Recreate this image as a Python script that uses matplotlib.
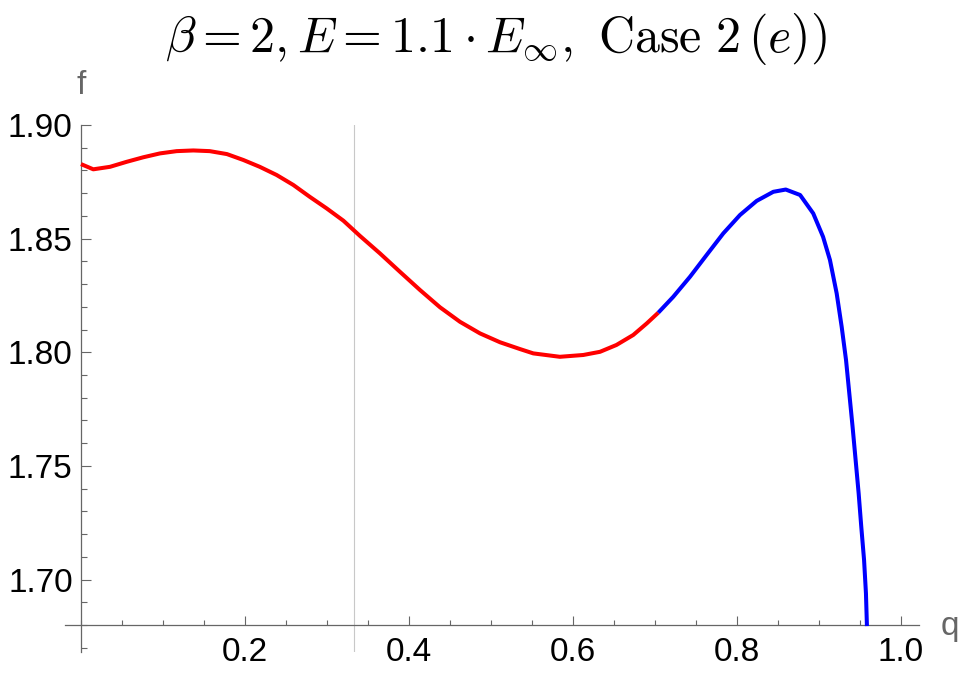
import matplotlib
matplotlib.use('Agg')
import matplotlib.pyplot as plt
from matplotlib.ticker import FixedLocator, MultipleLocator, FormatStrFormatter

plt.rcParams['font.family'] = ['Liberation Sans', 'DejaVu Sans']
plt.rcParams['mathtext.fontset'] = 'cm'

# red branch
q_red = [0.0, 0.015, 0.0354, 0.0557, 0.076, 0.0963, 0.1167, 0.137, 0.157, 0.178,
         0.198, 0.218, 0.2386, 0.259, 0.279, 0.2996, 0.32, 0.3402, 0.3646, 0.389,
         0.4134, 0.4378, 0.4622, 0.4866, 0.511, 0.5354, 0.5516, 0.584, 0.6126,
         0.633, 0.653, 0.6735, 0.69, 0.704]
f_red = [1.8828, 1.8805, 1.8816, 1.8838, 1.8858, 1.8875, 1.8885, 1.8888, 1.8885, 1.8872,
         1.8846, 1.8816, 1.8780, 1.8736, 1.8684, 1.8633, 1.8579, 1.8512, 1.8435, 1.8354,
         1.8274, 1.8198, 1.8134, 1.8083, 1.8044, 1.8014, 1.7995, 1.7980, 1.7988,
         1.8002, 1.8032, 1.8076, 1.8127, 1.8174]

# blue branch
q_blue = [0.704, 0.7223, 0.7427, 0.763, 0.7833, 0.8037, 0.824, 0.8443, 0.8595, 0.877,
          0.893, 0.905, 0.9134, 0.9216, 0.9277, 0.933, 0.937, 0.941, 0.9447, 0.9484,
          0.9516, 0.955, 0.9573, 0.9585]
f_blue = [1.8174, 1.8244, 1.8332, 1.8428, 1.8523, 1.8604, 1.8666, 1.8706, 1.8716, 1.8692,
          1.8611, 1.8508, 1.8406, 1.8259, 1.8112, 1.7966, 1.7819, 1.7672, 1.7526, 1.7379,
          1.7232, 1.7086, 1.6939, 1.6795]

x_major = [0.2, 0.4, 0.6, 0.8, 1.0]
y_major = [1.70, 1.75, 1.80, 1.85, 1.90]
q_marca = 1 / 3

gris = '#666666'

fig = plt.figure(figsize=(9.6, 6.75), dpi=100)
ax = fig.add_axes([65 / 960, 23 / 675, 854 / 960, 527 / 675])

ax.axvline(q_marca, color='#c8c8c8', lw=0.8, zorder=1)
ax.plot(q_red, f_red, color='#ff0000', lw=2.9, solid_capstyle='butt',
        solid_joinstyle='round', zorder=3)
ax.plot(q_blue, f_blue, color='#0000ff', lw=2.9, solid_capstyle='butt',
        solid_joinstyle='round', zorder=3)

ax.set_xlim(-0.0195, 1.022)
ax.set_ylim(1.6681, 1.900)

ax.spines['top'].set_visible(False)
ax.spines['right'].set_visible(False)
ax.spines['left'].set_position(('data', 0.0))
ax.spines['bottom'].set_position(('data', 1.68))
for s in ['left', 'bottom']:
    ax.spines[s].set_color(gris)
    ax.spines[s].set_linewidth(0.9)

ax.xaxis.set_major_locator(FixedLocator(x_major))
ax.xaxis.set_minor_locator(MultipleLocator(0.05))
ax.yaxis.set_major_locator(FixedLocator(y_major))
ax.yaxis.set_minor_locator(MultipleLocator(0.01))
ax.xaxis.set_major_formatter(FormatStrFormatter('%.1f'))
ax.yaxis.set_major_formatter(FormatStrFormatter('%.2f'))

ax.tick_params(axis='x', which='major', direction='in', length=6.5, width=0.8,
               color=gris, labelsize=24, labelcolor='black', pad=9)
ax.tick_params(axis='x', which='minor', direction='in', length=3.6, width=0.8, color=gris)
ax.tick_params(axis='y', which='major', direction='in', length=7.2, width=0.8,
               color=gris, labelsize=24, labelcolor='black', pad=6)
ax.tick_params(axis='y', which='minor', direction='in', length=4.3, width=0.8, color=gris)

fig.text(81 / 960, 1 - 86 / 675, 'f', color=gris, fontsize=24, ha='center', va='center')
fig.text(950 / 960, 1 - 626 / 675, 'q', color=gris, fontsize=24, ha='center', va='center')

fig.text(496 / 960, 1 - 39 / 675,
         r'$\beta=2,E=1.1\cdot E_{\infty},\ \mathrm{Case}\ 2\,(e))$',
         fontsize=36, ha='center', va='center')

fig.savefig('out.png', dpi=100)
